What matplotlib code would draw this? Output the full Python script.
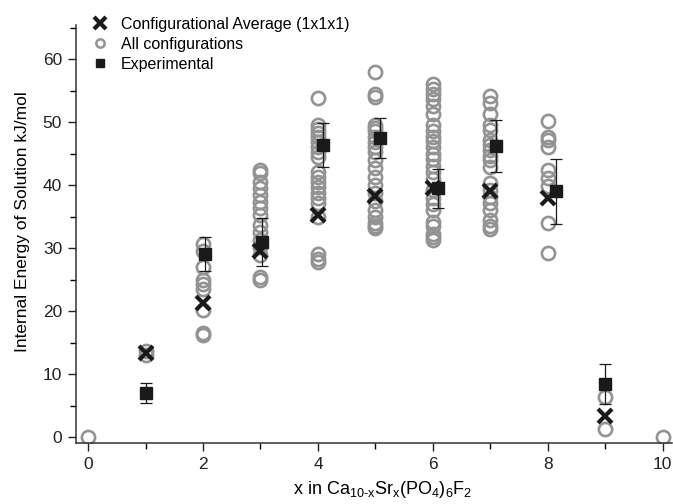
import matplotlib
matplotlib.use("Agg")
import matplotlib.pyplot as plt
from matplotlib.ticker import MultipleLocator

plt.rcParams['font.family'] = ['Liberation Sans', 'DejaVu Sans']
plt.rcParams['mathtext.default'] = 'regular'

# all configurations: one list of energies per composition x
config_x = [0, 1, 2, 3, 4, 5, 6, 7, 8, 9, 10]
config_energies = [
    [0.0],
    [13.0, 13.6],
    [30.6, 29.5, 27.0, 25.0, 24.3, 23.5, 20.2, 16.5, 16.2],
    [42.4, 41.9, 40.5, 39.5, 38.4, 37.3, 36.3, 35.2, 33.7, 32.5, 31.3, 30.2, 28.9, 25.4, 25.0],
    [53.8, 49.5, 48.9, 48.3, 47.6, 46.8, 46.0, 45.2, 44.4, 42.1, 41.3, 40.5, 39.7, 38.7, 37.9,
     37.1, 34.9, 29.0, 28.2, 27.8],
    [58.0, 54.4, 54.0, 49.6, 49.0, 48.5, 47.6, 46.8, 46.0, 45.2, 44.0, 42.7, 41.3, 40.0, 38.7,
     37.4, 36.0, 34.9, 34.0, 33.5, 33.2],
    [56.0, 55.2, 54.5, 53.6, 52.6, 51.2, 49.6, 48.5, 47.6, 47.0, 46.0, 45.0, 44.1, 43.0, 42.0,
     41.0, 39.2, 38.0, 37.0, 36.0, 34.2, 33.5, 32.3, 31.8, 31.3],
    [54.2, 53.0, 51.2, 49.6, 48.7, 47.1, 46.3, 45.6, 44.6, 44.0, 42.9, 40.3, 39.2, 38.1, 37.1,
     36.0, 34.4, 33.5, 33.0],
    [50.2, 47.6, 47.2, 46.1, 42.4, 41.1, 39.8, 34.0, 29.2],
    [6.3, 1.3],
    [0.0],
]

# configurational average (1x1x1)
avg_x = [1, 2, 3, 4, 5, 6, 7, 8, 9]
avg_e = [13.3, 21.3, 29.6, 35.2, 38.3, 39.6, 39.0, 38.0, 3.3]

# experimental values with error bars
exp_x = [1.0, 2.03, 3.02, 4.09, 5.08, 6.09, 7.09, 8.15, 9.0]
exp_e = [7.0, 29.0, 31.0, 46.4, 47.5, 39.5, 46.2, 39.0, 8.4]
exp_err = [1.6, 2.7, 3.8, 3.5, 3.2, 3.1, 4.1, 5.2, 3.2]

fig = plt.figure(figsize=(6.73, 5.04), dpi=100)
ax = fig.add_axes([76 / 673, 61 / 504, 596 / 673, 418 / 504])

px, py = [], []
for x, es in zip(config_x, config_energies):
    for e in es:
        px.append(x)
        py.append(e)

ax.plot(px, py, 'o', ms=9.5, mfc='none', mec='#939393', mew=1.9,
        linestyle='none', zorder=2)
ax.plot(avg_x, avg_e, 'x', ms=10.5, mec='#1a1a1a', mew=3,
        linestyle='none', zorder=3)
ax.errorbar(exp_x, exp_e, yerr=exp_err, fmt='none', ecolor='#1a1a1a',
            elinewidth=0.9, capsize=4.5, capthick=0.9, zorder=4)
ax.plot(exp_x, exp_e, 's', ms=8, color='#1a1a1a', linestyle='none', zorder=5)

ax.set_xlim(-0.21, 10.16)
ax.set_ylim(-0.95, 65.4)
ax.xaxis.set_major_locator(MultipleLocator(2))
ax.xaxis.set_minor_locator(MultipleLocator(1))
ax.yaxis.set_minor_locator(MultipleLocator(5))
ax.set_yticks([0, 10, 20, 30, 40, 50, 60])
ax.tick_params(which='major', direction='out', length=6, width=1, labelsize=12.5,
               colors='#222222', pad=4)
ax.tick_params(which='minor', direction='out', length=4, width=1)
for s in ['top', 'right']:
    ax.spines[s].set_visible(False)
for s in ['left', 'bottom']:
    ax.spines[s].set_linewidth(1.1)
    ax.spines[s].set_color('#333333')

ax.set_xlabel('x in Ca$_{10\u2010x}$Sr$_x$(PO$_4$)$_6$F$_2$', fontsize=13)
ax.set_ylabel('Internal Energy of Solution kJ/mol', fontsize=12.5)
ax.xaxis.set_label_coords(0.515, -0.085)
ax.yaxis.set_label_coords(-0.077, 0.53)

leg_circ, = ax.plot([], [], 'o', ms=6, mfc='none', mec='#939393', mew=1.8, linestyle='none')
leg_cross, = ax.plot([], [], 'x', ms=8, mec='#1a1a1a', mew=3, linestyle='none')
leg_sq, = ax.plot([], [], 's', ms=6, color='#1a1a1a', linestyle='none')
fig.legend([leg_cross, leg_circ, leg_sq],
           ['Configurational Average (1x1x1)', 'All configurations', 'Experimental'],
           loc='upper left', bbox_to_anchor=(84 / 673, 1 - 9 / 504), frameon=False,
           fontsize=11.5, handlelength=1.0, handletextpad=0.8, labelspacing=0.3,
           borderpad=0)

fig.savefig('out.png', dpi=100)
